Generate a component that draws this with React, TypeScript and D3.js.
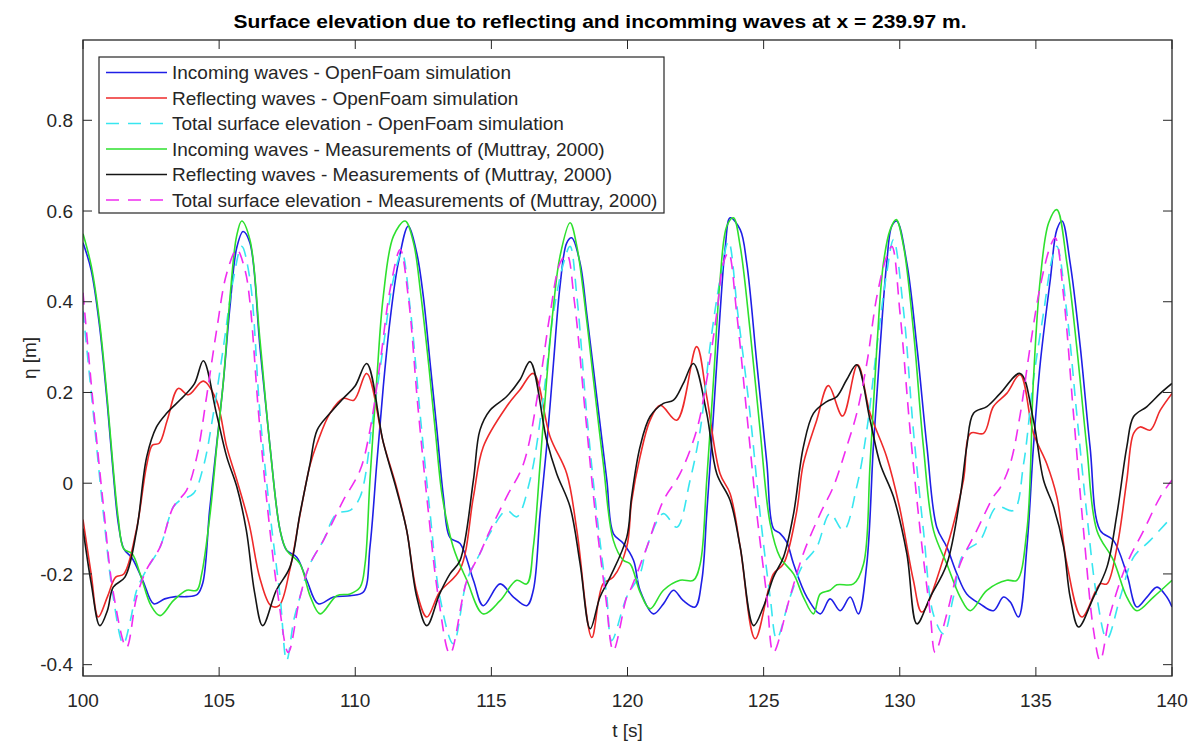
import React from 'react';
import * as d3 from 'd3';

type Pt = [number, number];

// [t (s), eta (m)]
const incomingSim: Pt[] = [
  [100.0, 0.53], [100.3, 0.47], [100.6, 0.35], [100.9, 0.17], [101.1, 0.03], [101.3, -0.09], [101.5, -0.145], [101.8, -0.165],
  [102.2, -0.215], [102.6, -0.266], [103.0, -0.255], [103.4, -0.25], [103.8, -0.25], [104.2, -0.245], [104.4, -0.22], [104.65, -0.06],
  [104.9, 0.08], [105.15, 0.22], [105.4, 0.39], [105.65, 0.52], [105.88, 0.555], [106.13, 0.53], [106.5, 0.3], [106.87, 0.08],
  [107.24, -0.104], [107.48, -0.148], [107.85, -0.163], [108.22, -0.214], [108.64, -0.266], [109.2, -0.251], [109.81, -0.248], [110.3, -0.24],
  [110.54, -0.141], [110.79, 0.043], [111.03, 0.213], [111.28, 0.36], [111.58, 0.485], [111.95, 0.567], [112.26, 0.507], [112.5, 0.412],
  [112.75, 0.265], [113.0, 0.117], [113.24, -0.03], [113.48, -0.12], [113.85, -0.133], [114.34, -0.214], [114.7, -0.27], [115.32, -0.222],
  [115.81, -0.251], [116.3, -0.27], [116.54, -0.236], [116.79, -0.067], [117.03, 0.08], [117.28, 0.264], [117.52, 0.434], [117.77, 0.53],
  [117.95, 0.541], [118.26, 0.485], [118.5, 0.375], [118.87, 0.191], [119.24, 0.007], [119.48, -0.111], [119.85, -0.133], [120.22, -0.17],
  [120.46, -0.236], [120.95, -0.288], [121.32, -0.266], [121.69, -0.236], [122.05, -0.259], [122.48, -0.273], [122.73, -0.214], [122.91, -0.067],
  [123.16, 0.154], [123.4, 0.375], [123.59, 0.52], [123.77, 0.585], [124.14, 0.559], [124.38, 0.485], [124.75, 0.264], [125.12, 0.043],
  [125.36, -0.1], [125.61, -0.111], [125.85, -0.13], [126.1, -0.178], [126.59, -0.251], [127.08, -0.288], [127.44, -0.255], [127.81, -0.281],
  [128.18, -0.251], [128.48, -0.288], [128.79, -0.178], [129.03, 0.08], [129.28, 0.301], [129.52, 0.485], [129.71, 0.567], [129.89, 0.578],
  [130.26, 0.485], [130.63, 0.301], [131.0, 0.08], [131.36, -0.097], [131.73, -0.141], [132.1, -0.2], [132.46, -0.244], [132.95, -0.266],
  [133.44, -0.281], [133.81, -0.251], [134.06, -0.262], [134.36, -0.295], [134.67, -0.141], [134.91, 0.08], [135.16, 0.264], [135.53, 0.449],
  [135.77, 0.559], [135.96, 0.578], [136.26, 0.485], [136.63, 0.301], [136.99, 0.08], [137.36, -0.104], [137.85, -0.126], [138.34, -0.2],
  [138.71, -0.273], [139.08, -0.251], [139.45, -0.229], [139.81, -0.251], [140.0, -0.273],
];

const reflectingSim: Pt[] = [
  [100.0, -0.08], [100.3, -0.2], [100.56, -0.295], [100.9, -0.25], [101.2, -0.207], [101.5, -0.2], [101.97, -0.1], [102.34, 0.04],
  [102.55, 0.084], [102.8, 0.088], [103.1, 0.14], [103.5, 0.209], [103.87, 0.195], [104.42, 0.225], [104.9, 0.183], [105.28, 0.08],
  [105.65, 0.007], [106.1, -0.089], [106.5, -0.21], [106.9, -0.27], [107.2, -0.27], [107.6, -0.19], [107.97, -0.07], [108.34, 0.04],
  [108.6, 0.088], [109.07, 0.154], [109.56, 0.187], [109.95, 0.183], [110.42, 0.242], [111.03, 0.09], [111.52, -0.01], [111.89, -0.104],
  [112.26, -0.24], [112.63, -0.295], [113.1, -0.24], [113.85, -0.19], [114.34, -0.03], [114.7, 0.08], [115.56, 0.169], [116.05, 0.206],
  [116.54, 0.242], [117.16, 0.102], [117.77, 0.021], [118.14, -0.104], [118.69, -0.34], [119.1, -0.222], [119.48, -0.207], [119.97, -0.141],
  [120.15, -0.04], [120.46, 0.058], [120.83, 0.139], [121.2, 0.172], [121.81, 0.139], [122.54, 0.301], [122.91, 0.191], [123.4, 0.021],
  [123.77, -0.023], [124.14, -0.141], [124.69, -0.343], [125.36, -0.2], [125.73, -0.178], [126.2, -0.067], [126.46, 0.043], [126.95, 0.139],
  [127.38, 0.215], [127.9, 0.148], [128.45, 0.261], [128.91, 0.154], [129.52, 0.058], [129.99, -0.052], [130.5, -0.214], [130.81, -0.284],
  [131.73, -0.141], [132.34, 0.007], [132.6, 0.11], [133.08, 0.11], [133.44, 0.169], [133.93, 0.198], [134.42, 0.239], [134.91, 0.11],
  [135.4, 0.043], [135.77, -0.03], [136.14, -0.178], [136.69, -0.295], [137.36, -0.222], [137.61, -0.222], [137.98, -0.141], [138.34, 0.007],
  [138.59, 0.11], [138.83, 0.124], [139.2, 0.117], [139.57, 0.161], [140.0, 0.198],
];

const totalSim: Pt[] = [
  [100.0, 0.38], [100.38, 0.154], [100.75, -0.067], [101.11, -0.251], [101.48, -0.354], [101.75, -0.3], [101.97, -0.236], [102.34, -0.19],
  [102.83, -0.141], [103.32, -0.052], [103.56, -0.038], [104.05, -0.023], [104.42, 0.036], [104.79, 0.154], [105.16, 0.301], [105.52, 0.449],
  [105.83, 0.522], [106.13, 0.45], [106.5, 0.154], [106.87, -0.067], [107.24, -0.251], [107.48, -0.391], [107.75, -0.3], [107.97, -0.251],
  [108.34, -0.178], [108.83, -0.126], [109.32, -0.067], [109.81, -0.06], [110.18, -0.03], [110.67, 0.154], [111.03, 0.301], [111.4, 0.449],
  [111.71, 0.508], [112.01, 0.39], [112.38, 0.154], [112.75, -0.067], [113.11, -0.251], [113.6, -0.354], [114.1, -0.214], [114.58, -0.155],
  [114.95, -0.11], [115.56, -0.06], [115.93, -0.074], [116.42, 0.007], [116.91, 0.191], [117.28, 0.375], [117.65, 0.485], [117.89, 0.522],
  [118.14, 0.412], [118.5, 0.154], [118.87, -0.067], [119.24, -0.251], [119.42, -0.347], [119.97, -0.251], [120.46, -0.2], [120.71, -0.141],
  [121.32, -0.067], [121.81, -0.097], [122.3, 0.007], [122.67, 0.117], [123.03, 0.301], [123.4, 0.449], [123.71, 0.533], [124.05, 0.375],
  [124.5, 0.154], [124.87, -0.067], [125.24, -0.251], [125.48, -0.343], [125.97, -0.251], [126.46, -0.178], [126.95, -0.141], [127.44, -0.067],
  [127.93, -0.104], [128.42, -0.008], [128.79, 0.117], [129.16, 0.301], [129.52, 0.463], [129.77, 0.537], [130.14, 0.38], [130.5, 0.117],
  [130.87, -0.104], [131.24, -0.29], [131.61, -0.332], [131.97, -0.251], [132.34, -0.155], [132.95, -0.126], [133.57, -0.052], [134.18, -0.06],
  [134.55, 0.043], [134.91, 0.228], [135.28, 0.375], [135.59, 0.493], [135.77, 0.522], [136.14, 0.375], [136.5, 0.154], [136.87, -0.067],
  [137.24, -0.251], [137.61, -0.343], [138.1, -0.251], [138.59, -0.163], [139.2, -0.126], [140.0, -0.074],
];

const incomingMeas: Pt[] = [
  [100.0, 0.55], [100.3, 0.48], [100.6, 0.36], [100.9, 0.18], [101.1, 0.04], [101.3, -0.08], [101.5, -0.145], [101.8, -0.155],
  [102.1, -0.2], [102.5, -0.27], [102.83, -0.292], [103.32, -0.259], [103.81, -0.236], [104.18, -0.236], [104.36, -0.2], [104.67, -0.067],
  [104.91, 0.08], [105.16, 0.228], [105.4, 0.41], [105.64, 0.544], [105.83, 0.578], [106.13, 0.537], [106.5, 0.316], [106.87, 0.08],
  [107.24, -0.104], [107.48, -0.148], [107.97, -0.178], [108.35, -0.25], [108.71, -0.288], [109.32, -0.248], [109.81, -0.244], [110.18, -0.229],
  [110.36, -0.178], [110.54, 0.007], [110.79, 0.228], [111.03, 0.412], [111.4, 0.544], [111.83, 0.578], [112.14, 0.53], [112.4, 0.42],
  [112.7, 0.26], [112.95, 0.11], [113.2, -0.03], [113.6, -0.141], [114.1, -0.214], [114.7, -0.288], [115.32, -0.259], [115.93, -0.214],
  [116.3, -0.222], [116.54, -0.141], [116.79, 0.043], [117.03, 0.228], [117.28, 0.39], [117.52, 0.5], [117.89, 0.574], [118.14, 0.522],
  [118.5, 0.36], [118.75, 0.228], [119.11, 0.043], [119.48, -0.126], [119.85, -0.17], [120.1, -0.178], [120.46, -0.24], [120.83, -0.277],
  [121.32, -0.236], [121.93, -0.214], [122.42, -0.214], [122.67, -0.178], [122.91, 0.007], [123.16, 0.228], [123.4, 0.449], [123.65, 0.567],
  [123.89, 0.585], [124.14, 0.522], [124.5, 0.338], [124.87, 0.117], [125.24, -0.089], [125.6, -0.163], [126.1, -0.2], [126.46, -0.251],
  [126.83, -0.288], [127.08, -0.244], [127.44, -0.236], [127.69, -0.224], [128.3, -0.222], [128.67, -0.178], [128.91, 0.043], [129.16, 0.301],
  [129.4, 0.485], [129.65, 0.559], [129.87, 0.581], [130.14, 0.522], [130.5, 0.338], [130.87, 0.08], [131.24, -0.104], [131.73, -0.178],
  [132.22, -0.251], [132.59, -0.281], [133.2, -0.236], [133.93, -0.214], [134.3, -0.214], [134.67, -0.104], [134.91, 0.228], [135.16, 0.449],
  [135.47, 0.574], [135.77, 0.603], [136.14, 0.485], [136.5, 0.301], [136.87, 0.08], [137.24, -0.104], [137.85, -0.17], [138.34, -0.251],
  [138.71, -0.281], [139.32, -0.251], [140.0, -0.214],
];

const reflectingMeas: Pt[] = [
  [100.0, -0.1], [100.3, -0.22], [100.62, -0.314], [100.9, -0.28], [101.11, -0.229], [101.54, -0.207], [101.97, -0.104], [102.34, 0.058],
  [102.7, 0.124], [103.07, 0.154], [103.69, 0.191], [104.1, 0.22], [104.42, 0.27], [104.9, 0.154], [105.28, 0.058], [105.65, -0.008],
  [106.0, -0.104], [106.3, -0.24], [106.6, -0.314], [107.1, -0.236], [107.6, -0.185], [107.97, -0.067], [108.34, 0.043], [108.6, 0.117],
  [109.07, 0.154], [109.56, 0.187], [110.0, 0.215], [110.42, 0.264], [111.03, 0.09], [111.52, -0.015], [111.89, -0.104], [112.26, -0.251],
  [112.63, -0.314], [113.1, -0.244], [113.48, -0.2], [113.85, -0.17], [114.34, 0.007], [114.58, 0.117], [114.95, 0.161], [115.56, 0.191],
  [116.05, 0.228], [116.42, 0.268], [117.03, 0.095], [117.4, 0.021], [117.89, -0.052], [118.26, -0.178], [118.63, -0.321], [118.99, -0.251],
  [119.36, -0.207], [119.97, -0.12], [120.15, -0.03], [120.46, 0.08], [120.83, 0.147], [121.32, 0.176], [121.69, 0.183], [122.05, 0.22],
  [122.42, 0.264], [122.91, 0.154], [123.28, 0.021], [123.77, -0.038], [124.14, -0.141], [124.63, -0.314], [124.99, -0.273], [125.36, -0.207],
  [125.73, -0.163], [126.1, -0.067], [126.46, 0.08], [126.83, 0.154], [127.32, 0.18], [127.69, 0.191], [128.05, 0.228], [128.42, 0.261],
  [128.91, 0.139], [129.28, 0.043], [129.77, -0.03], [130.26, -0.155], [130.63, -0.31], [131.12, -0.251], [131.73, -0.178], [132.22, -0.03],
  [132.46, 0.08], [132.71, 0.154], [133.2, 0.169], [133.69, 0.198], [134.42, 0.242], [134.91, 0.139], [135.28, 0.007], [135.65, -0.052],
  [136.02, -0.141], [136.26, -0.251], [136.57, -0.317], [137.12, -0.251], [137.61, -0.185], [137.98, -0.067], [138.34, 0.08], [138.59, 0.147],
  [139.08, 0.169], [139.57, 0.198], [140.0, 0.22],
];

const totalMeas: Pt[] = [
  [100.0, 0.42], [100.38, 0.17], [100.75, -0.05], [101.11, -0.24], [101.6, -0.362], [101.97, -0.251], [102.34, -0.19], [102.83, -0.141],
  [103.32, -0.052], [103.81, -0.015], [104.18, 0.058], [104.54, 0.191], [104.91, 0.338], [105.28, 0.463], [105.65, 0.515], [105.95, 0.47],
  [106.13, 0.4], [106.45, 0.154], [106.8, -0.067], [107.17, -0.251], [107.54, -0.373], [107.97, -0.251], [108.34, -0.178], [108.83, -0.126],
  [109.32, -0.067], [109.56, -0.038], [110.18, 0.029], [110.54, 0.117], [110.91, 0.264], [111.28, 0.427], [111.65, 0.515], [111.95, 0.41],
  [112.3, 0.17], [112.68, -0.06], [113.05, -0.25], [113.48, -0.376], [114.1, -0.214], [114.58, -0.155], [114.95, -0.104], [115.56, -0.03],
  [116.18, 0.043], [116.79, 0.228], [117.16, 0.375], [117.52, 0.485], [117.77, 0.504], [118.05, 0.4], [118.45, 0.154], [118.82, -0.067],
  [119.2, -0.251], [119.48, -0.369], [119.97, -0.251], [120.1, -0.236], [120.71, -0.141], [121.32, -0.038], [121.93, 0.021], [122.54, 0.117],
  [122.91, 0.228], [123.28, 0.375], [123.52, 0.485], [123.71, 0.508], [124.01, 0.375], [124.38, 0.154], [124.75, -0.067], [125.12, -0.251],
  [125.36, -0.373], [125.97, -0.25], [126.46, -0.155], [127.08, -0.067], [127.56, -0.008], [128.05, 0.08], [128.42, 0.154], [128.79, 0.264],
  [129.16, 0.412], [129.52, 0.5], [129.71, 0.522], [130.01, 0.375], [130.38, 0.117], [130.75, -0.104], [131.12, -0.288], [131.3, -0.373],
  [131.73, -0.288], [132.22, -0.178], [132.83, -0.104], [133.44, -0.03], [133.69, -0.01], [134.06, 0.043], [134.42, 0.15], [134.79, 0.301],
  [135.16, 0.434], [135.53, 0.522], [135.71, 0.541], [136.02, 0.412], [136.38, 0.154], [136.75, -0.104], [137.12, -0.325], [137.36, -0.391],
  [137.73, -0.288], [138.34, -0.178], [138.96, -0.104], [139.57, -0.03], [140.0, 0.007],
];

const seriesLabels = [
  'Incoming waves - OpenFoam simulation',
  'Reflecting waves - OpenFoam simulation',
  'Total surface elevation - OpenFoam simulation',
  'Incoming waves - Measurements of (Muttray, 2000)',
  'Reflecting waves - Measurements of (Muttray, 2000)',
  'Total surface elevation - Measurements of (Muttray, 2000)',
];
const seriesColors = ['#1f1fe6', '#ee2a2a', '#38e6f0', '#2ee02e', '#151515', '#f02cf0'];
const seriesDashed = [false, false, true, false, false, true];
const seriesData = [incomingSim, reflectingSim, totalSim, incomingMeas, reflectingMeas, totalMeas];

const xTicks = [100, 105, 110, 115, 120, 125, 130, 135, 140];
const yTicks = [-0.4, -0.2, 0, 0.2, 0.4, 0.6, 0.8];

const titleText = 'Surface elevation due to reflecting and incomming waves at x = 239.97 m.';
const FONT = '"Liberation Sans", Arial, Helvetica, sans-serif';
const AXIS = '#262626';

export default function App() {
  const left = 83, right = 1172, top = 40, bottom = 676;
  const x = d3.scaleLinear().domain([100, 140]).range([left, right]);
  const y = d3.scaleLinear().domain([-0.425, 0.977]).range([bottom, top]);

  const line = d3.line<Pt>()
    .x(d => x(d[0]))
    .y(d => y(d[1]))
    .curve(d3.curveCatmullRom.alpha(0.5));

  const tickLen = 9;
  const legendX = 99, legendY = 57, legendW = 565, legendH = 156;

  return (
    <svg width={1199} height={747} style={{ position: 'absolute', left: 0, top: 0, background: '#fff' }} fontFamily={FONT}>
      <rect x={0} y={0} width={1199} height={747} fill="#fff" />
      <defs>
        <clipPath id="plotClip">
          <rect x={left} y={top} width={right - left} height={bottom - top} />
        </clipPath>
      </defs>

      <text x={600} y={28} textAnchor="middle" fontSize={18.5} fontWeight="bold" fill="#000"
        textLength={733} lengthAdjust="spacingAndGlyphs">{titleText}</text>

      <g clipPath="url(#plotClip)">
        {seriesData.map((data, i) => (
          <path key={i} d={line(data) || ''} fill="none" stroke={seriesColors[i]} strokeWidth={1.6}
            strokeDasharray={seriesDashed[i] ? '12,8' : undefined} strokeLinejoin="round" />
        ))}
      </g>

      {/* ticks, MATLAB style pointing inward on all sides */}
      {xTicks.map(t => (
        <g key={'xt' + t}>
          <line x1={x(t)} x2={x(t)} y1={bottom} y2={bottom - tickLen} stroke={AXIS} />
          <line x1={x(t)} x2={x(t)} y1={top} y2={top + tickLen} stroke={AXIS} />
          <text x={x(t)} y={707} textAnchor="middle" fontSize={19} fill={AXIS}>{t}</text>
        </g>
      ))}
      {yTicks.map(v => (
        <g key={'yt' + v}>
          <line x1={left} x2={left + tickLen} y1={y(v)} y2={y(v)} stroke={AXIS} />
          <line x1={right} x2={right - tickLen} y1={y(v)} y2={y(v)} stroke={AXIS} />
          <text x={73} y={y(v)} dy="0.35em" textAnchor="end" fontSize={19} fill={AXIS}>{String(+v.toFixed(1))}</text>
        </g>
      ))}

      <rect x={left} y={top} width={right - left} height={bottom - top} fill="none" stroke={AXIS} strokeWidth={1.3} />

      <text x={(left + right) / 2} y={737} textAnchor="middle" fontSize={19} fill={AXIS}>t [s]</text>
      <text transform={`translate(36,${(top + bottom) / 2}) rotate(-90)`} textAnchor="middle" fontSize={19} fill={AXIS}>η [m]</text>

      <g>
        <rect x={legendX} y={legendY} width={legendW} height={legendH} fill="#fff" stroke={AXIS} strokeWidth={1.2} />
        {seriesLabels.map((label, i) => {
          const ry = legendY + 15.5 + i * 25.5;
          return (
            <g key={'lg' + i}>
              <line x1={106} x2={167} y1={ry} y2={ry} stroke={seriesColors[i]} strokeWidth={1.6}
                strokeDasharray={seriesDashed[i] ? '13,9' : undefined} />
              <text x={172} y={ry} dy="0.35em" fontSize={19} fill={AXIS}>{label}</text>
            </g>
          );
        })}
      </g>
    </svg>
  );
}
